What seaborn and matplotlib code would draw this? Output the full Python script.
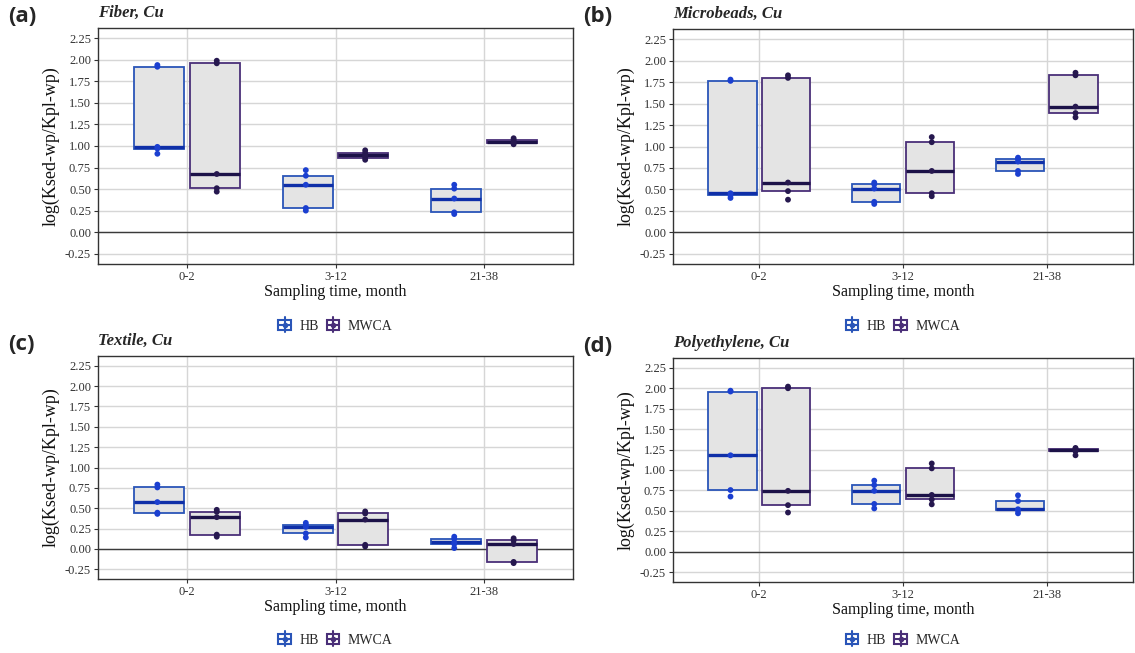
import matplotlib
matplotlib.use("Agg")
import matplotlib.pyplot as plt
from matplotlib.patches import Patch, Rectangle
from matplotlib.lines import Line2D
from matplotlib.legend_handler import HandlerBase
import numpy as np
import seaborn as sns
import pandas as pd

# ---------------- data ----------------
times = ["0-2", "3-12", "21-38"]
sites = ["HB", "MWCA"]
panels = ["Fiber, Cu", "Microbeads, Cu", "Textile, Cu", "Polyethylene, Cu"]
letters = ["(a)", "(b)", "(c)", "(d)"]

# Fiber
fiber_hb = [[0.91, 0.97, 0.99, 1.92, 1.94],
            [0.25, 0.28, 0.55, 0.655, 0.72],
            [0.21, 0.23, 0.39, 0.505, 0.55]]
fiber_mwca = [[0.47, 0.51, 0.675, 1.96, 1.99],
              [0.84, 0.865, 0.89, 0.92, 0.95],
              [1.02, 1.04, 1.05, 1.07, 1.09]]
# Microbeads
micro_hb = [[0.40, 0.43, 0.455, 1.765, 1.78],
            [0.33, 0.355, 0.51, 0.56, 0.58],
            [0.68, 0.715, 0.825, 0.855, 0.87]]
micro_mwca = [[0.38, 0.48, 0.58, 1.80, 1.83],
              [0.42, 0.455, 0.715, 1.05, 1.11],
              [1.34, 1.39, 1.465, 1.83, 1.86]]
# Textile
textile_hb = [[0.43, 0.445, 0.575, 0.755, 0.79],
              [0.14, 0.19, 0.27, 0.295, 0.32],
              [0.01, 0.06, 0.08, 0.125, 0.15]]
textile_mwca = [[0.15, 0.175, 0.39, 0.455, 0.48],
                [0.03, 0.05, 0.36, 0.435, 0.46],
                [-0.175, -0.16, 0.06, 0.105, 0.13]]
# Polyethylene
poly_hb = [[0.675, 0.755, 1.18, 1.96, 1.97],
           [0.53, 0.585, 0.745, 0.815, 0.87],
           [0.47, 0.505, 0.52, 0.62, 0.69]]
poly_mwca = [[0.48, 0.57, 0.745, 2.00, 2.02],
             [0.58, 0.64, 0.695, 1.02, 1.08],
             [1.18, 1.23, 1.245, 1.26, 1.27]]

yticks = [-0.25, 0.0, 0.25, 0.5, 0.75, 1.0, 1.25, 1.5, 1.75, 2.0, 2.25]

panel_data = {
    "Fiber, Cu": {"HB": fiber_hb, "MWCA": fiber_mwca},
    "Microbeads, Cu": {"HB": micro_hb, "MWCA": micro_mwca},
    "Textile, Cu": {"HB": textile_hb, "MWCA": textile_mwca},
    "Polyethylene, Cu": {"HB": poly_hb, "MWCA": poly_mwca},
}

rows = []
for p in panels:
    for s in sites:
        for t, vals in zip(times, panel_data[p][s]):
            for v in vals:
                rows.append({"panel": p, "site": s, "time": t, "value": v})
df = pd.DataFrame(rows)

# ---------------- style ----------------
sns.set_theme(style="white")
plt.rcParams["font.family"] = ["Liberation Serif", "DejaVu Serif"]

edge_col = {"HB": "#2a55b8", "MWCA": "#4a2f78"}
med_col = {"HB": "#0f2fa8", "MWCA": "#1c1248"}
pt_col = {"HB": "#1b3fd0", "MWCA": "#26184f"}
fill_col = "#e4e4e4"


class BoxIconHandler(HandlerBase):
    def create_artists(self, legend, orig_handle, xdescent, ydescent,
                       width, height, fontsize, trans):
        col = orig_handle.get_edgecolor()
        cx = -xdescent + width / 2
        bh = height * 0.8
        by = -ydescent + (height - bh) / 2
        rect = Rectangle((-xdescent, by), width, bh, facecolor="white",
                         edgecolor=col, linewidth=1.5, transform=trans)
        mid = Line2D([-xdescent, -xdescent + width],
                     [-ydescent + height / 2] * 2, color=col, linewidth=1.5,
                     transform=trans)
        vert = Line2D([cx, cx], [-ydescent - height * 0.15,
                                 -ydescent + height * 1.15],
                      color=col, linewidth=1.5, transform=trans)
        dot = Line2D([cx], [-ydescent + height / 2], marker="o", markersize=3,
                     color=col, transform=trans)
        return [rect, mid, vert, dot]


fig = plt.figure(figsize=(11.35, 6.53), dpi=100)
W, H = 1135, 653
boxes = [  # left, top, right, bottom in px
    (98, 28, 573, 264),
    (673, 29, 1133, 264),
    (98, 356, 573, 579),
    (673, 358, 1133, 582),
]
legend_y = [326, 326, 640, 640]

for i, p in enumerate(panels):
    l, t, r, b = boxes[i]
    ax = fig.add_axes([l / W, 1 - b / H, (r - l) / W, (b - t) / H])
    sub = df[df["panel"] == p]
    sns.boxplot(data=sub, x="time", y="value", hue="site",
                order=times, hue_order=sites, palette={k: fill_col for k in sites},
                linecolor="#333333", linewidth=1.3, width=0.75, gap=0.1,
                whis=0, showcaps=False, showfliers=False,
                medianprops=dict(linewidth=2.4),
                whiskerprops=dict(linewidth=0),
                legend=False, ax=ax)
    # colour each box by its hue group (left of category = HB, right = MWCA)
    for patch in ax.patches:
        xm = patch.get_path().vertices[:, 0].mean()
        s = "HB" if xm < round(xm) else "MWCA"
        patch.set_edgecolor(edge_col[s])
    for ln in ax.lines:
        xd = np.asarray(ln.get_xdata(), dtype=float)
        if xd.size == 0:
            continue
        xm = xd.mean()
        s = "HB" if xm < round(xm) else "MWCA"
        ln.set_color(med_col[s])

    sns.stripplot(data=sub, x="time", y="value", hue="site", order=times,
                  hue_order=sites, palette=pt_col, dodge=True, jitter=False,
                  size=4.2, linewidth=0, legend=False, ax=ax, zorder=4)

    ax.set_xlim(-0.6, 2.6)
    ax.set_ylim(-0.37, 2.37)
    ax.set_yticks(yticks)
    ax.set_yticklabels([f"{v:.2f}" for v in yticks])
    ax.axhline(0, color="#3a3a3a", linewidth=1.0, zorder=1.5)
    ax.grid(True, color="#d6d6d6", linewidth=1.0, zorder=0)
    ax.set_axisbelow(True)
    for sp in ax.spines.values():
        sp.set_color("#333333")
        sp.set_linewidth(1.0)
    ax.tick_params(axis="both", which="both", direction="out", length=3,
                   width=0.8, color="#333333", labelsize=9, labelcolor="#333333",
                   left=True, bottom=True, pad=2)
    ax.set_xlabel("Sampling time, month", fontsize=11.5, color="#111111", labelpad=1)
    ax.set_ylabel("log(Ksed-wp/Kpl-wp)", fontsize=13, color="#111111", labelpad=4)

    ax.text(0.0, 1.03, p, transform=ax.transAxes, fontsize=12,
            fontweight="bold", fontstyle="italic", ha="left", va="bottom")
    fig.text((l - 90) / W, 1 - (t - 12) / H, letters[i], fontsize=16,
             fontweight="bold", family="Open Sans", ha="left", va="center")

    handles = [Patch(facecolor="white", edgecolor=edge_col[s], label=s)
               for s in sites]
    ly = -(legend_y[i] - b) / (b - t)
    ax.legend(handles=handles, loc="center", bbox_to_anchor=(0.5, ly),
              ncol=2, frameon=False, fontsize=10, handlelength=0.9,
              handleheight=0.9, handletextpad=0.6, columnspacing=0.6,
              handler_map={Patch: BoxIconHandler()})

fig.savefig("out.png", dpi=100)
